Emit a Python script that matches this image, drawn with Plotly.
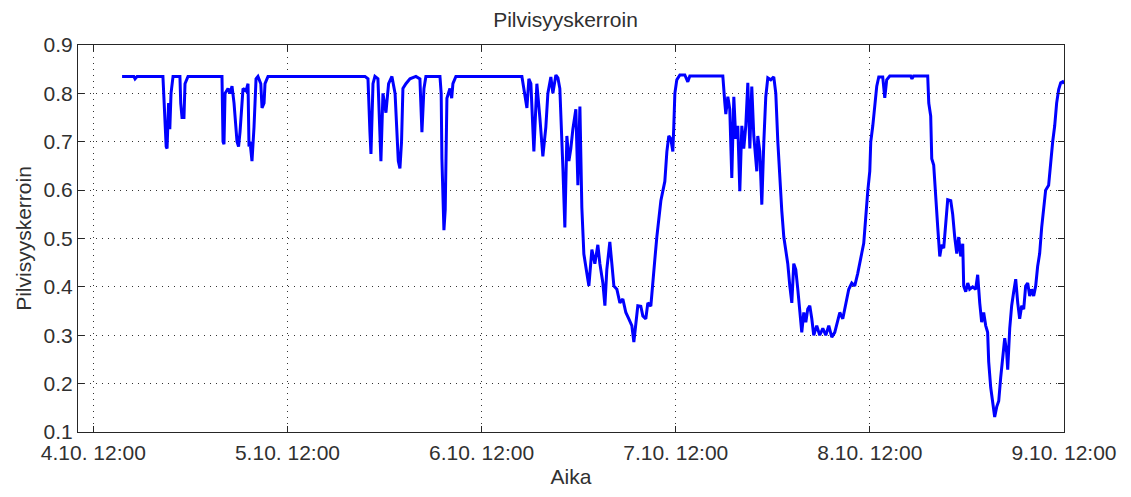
import pandas as pd
import plotly.graph_objects as go

# Time in hours after 4.10. 12:00, and cloudiness coefficient
hours = [3.55, 5.0, 5.15, 5.4, 8.6, 8.75, 9.0, 9.11, 9.3, 9.45, 9.6, 9.85, 10.7, 10.8, 10.96, 11.2, 11.33, 11.7,
         15.9, 16.03, 16.15, 16.28, 16.65, 16.9, 17.14, 17.39, 17.76, 17.95, 18.13, 18.5, 18.87, 19.12, 19.24, 19.37,
         19.61, 19.86, 20.11, 20.35, 20.7, 20.85, 21.1, 21.22, 21.59,
         33.58, 33.95, 34.19, 34.32, 34.57, 34.81, 35.18, 35.4, 35.55, 35.8, 36.17, 36.5, 36.91, 37.3, 37.53, 37.7,
         37.9, 38.1, 38.27, 38.64, 39.14, 39.88, 40.37, 40.62, 40.87, 41.11, 42.85, 43.0, 43.09, 43.34, 43.5, 43.71,
         44.08, 44.3, 44.45, 44.82,
         52.98, 53.23, 53.6, 53.84, 54.09, 54.46, 54.83, 55.2, 55.57, 55.94, 56.19, 56.56, 56.81, 57.18, 57.43, 57.67,
         57.8, 58.05, 58.29, 58.54, 58.79, 59.03, 59.28, 59.65, 59.9, 60.15, 60.39, 60.64, 61.01, 61.26, 61.63, 62.0,
         62.37, 62.62, 62.99, 63.24, 63.48, 63.85, 64.1, 64.35, 64.72, 65.09, 65.46, 65.83, 66.2, 66.57, 66.82, 67.07,
         67.31, 67.68, 67.93, 68.3, 68.55, 68.92, 69.17, 69.41, 69.66, 69.91, 70.16, 70.4, 70.65, 70.9, 71.14, 71.39,
         71.64, 71.76, 71.89, 72.13, 72.51, 73.12, 73.49, 73.74,
         77.82, 78.07, 78.19, 78.44, 78.68, 78.93, 79.18, 79.42, 79.67, 79.92, 80.17, 80.41, 80.66, 80.91, 81.16, 81.4,
         81.65, 82.02, 82.14, 82.39, 82.64, 82.89, 83.13, 83.38, 83.75, 84.12, 84.37, 84.62, 84.86, 85.11, 85.36, 85.6,
         85.85, 86.1, 86.35, 86.59, 86.84, 87.09, 87.33, 87.58, 87.83, 88.08, 88.32, 88.57, 88.82, 89.06, 89.43, 89.8,
         90.18, 90.55, 90.92, 91.29, 91.66, 92.03, 92.28, 92.65, 93.02, 93.39, 93.76, 94.13, 94.5, 94.75, 95.0, 95.24,
         95.49, 95.74, 95.99, 96.11, 96.36, 96.6, 96.85, 97.1, 97.59, 97.84, 98.08, 98.46, 101.05, 101.2, 101.4,
         103.15, 103.28, 103.52, 103.65, 103.89, 104.14, 104.39, 104.64, 104.88, 105.13, 105.38, 105.62, 106.0, 106.24,
         106.49, 106.74, 106.98, 107.23, 107.48, 107.6, 107.85, 108.1, 108.34, 108.71, 109.08, 109.33, 109.58, 109.82,
         110.07, 110.32, 110.56, 110.69, 110.94, 111.18, 111.43, 111.68, 111.93, 112.17, 112.42, 112.67, 112.91, 113.04,
         113.29, 113.53, 113.78, 114.03, 114.28, 114.52, 114.77, 115.02, 115.26, 115.51, 115.76, 116.0, 116.25, 116.5,
         116.74, 116.99, 117.24, 117.49, 117.73, 118.1, 118.35, 118.6, 118.85, 119.09, 119.34, 119.59, 119.84, 120.0]

values = [0.835, 0.835, 0.830, 0.835, 0.835, 0.78, 0.69, 0.686, 0.78, 0.726, 0.80, 0.835, 0.835, 0.78, 0.75, 0.75, 0.82, 0.835,
          0.835, 0.70, 0.695, 0.80, 0.81, 0.80, 0.815, 0.78, 0.70, 0.69, 0.72, 0.81, 0.805, 0.82, 0.69, 0.70,
          0.66, 0.73, 0.83, 0.835, 0.82, 0.77, 0.78, 0.82, 0.835,
          0.835, 0.83, 0.72, 0.675, 0.82, 0.835, 0.83, 0.73, 0.66, 0.80, 0.76, 0.82, 0.835, 0.80, 0.72, 0.66,
          0.645, 0.70, 0.81, 0.82, 0.83, 0.835, 0.83, 0.72, 0.81, 0.835, 0.835, 0.80, 0.665, 0.517, 0.56, 0.79,
          0.81, 0.79, 0.82, 0.835,
          0.835, 0.81, 0.77, 0.83, 0.82, 0.68, 0.82, 0.75, 0.67, 0.73, 0.80, 0.834, 0.80, 0.838, 0.832, 0.81,
          0.76, 0.645, 0.523, 0.712, 0.66, 0.686, 0.726, 0.767, 0.61, 0.773, 0.564, 0.468, 0.428, 0.402, 0.477, 0.448,
          0.487, 0.448, 0.408, 0.361, 0.436, 0.493, 0.448, 0.402, 0.395, 0.367, 0.375, 0.347, 0.334, 0.32, 0.286, 0.327,
          0.361, 0.36, 0.34, 0.334, 0.367, 0.36, 0.402, 0.456, 0.503, 0.544, 0.578, 0.598, 0.618, 0.679, 0.712, 0.706,
          0.68, 0.733, 0.80, 0.828, 0.838, 0.838, 0.824, 0.836,
          0.836, 0.78, 0.757, 0.793, 0.767, 0.625, 0.793, 0.706, 0.733, 0.598, 0.733, 0.686, 0.733, 0.822, 0.686, 0.814,
          0.712, 0.639, 0.712, 0.68, 0.57, 0.70, 0.793, 0.832, 0.828, 0.834, 0.80, 0.70, 0.618, 0.557, 0.503, 0.476,
          0.448, 0.402, 0.367, 0.448, 0.436, 0.395, 0.347, 0.306, 0.347, 0.327, 0.354, 0.361, 0.334, 0.30, 0.32, 0.30,
          0.314, 0.30, 0.32, 0.296, 0.306, 0.334, 0.347, 0.334, 0.367, 0.395, 0.408, 0.402, 0.428, 0.452, 0.47, 0.49,
          0.55, 0.598, 0.639, 0.70, 0.733, 0.767, 0.815, 0.834, 0.834, 0.791, 0.828, 0.836, 0.836, 0.83, 0.836,
          0.836, 0.78, 0.753, 0.665, 0.652, 0.578, 0.523, 0.463, 0.487, 0.48, 0.523, 0.58, 0.578, 0.55,
          0.503, 0.469, 0.503, 0.463, 0.489, 0.402, 0.39, 0.408, 0.395, 0.40, 0.395, 0.425, 0.367, 0.327,
          0.347, 0.32, 0.306, 0.245, 0.192, 0.164, 0.131, 0.152, 0.164, 0.212, 0.252, 0.294, 0.265, 0.229,
          0.314, 0.361, 0.39, 0.416, 0.367, 0.334, 0.361, 0.354, 0.402, 0.408, 0.381, 0.395, 0.381, 0.402,
          0.442, 0.469, 0.523, 0.564, 0.60, 0.61, 0.659, 0.70, 0.733, 0.78, 0.808, 0.822, 0.824, 0.82]

tick_times = ["2012-10-04 12:00", "2012-10-05 12:00", "2012-10-06 12:00",
              "2012-10-07 12:00", "2012-10-08 12:00", "2012-10-09 12:00"]
tick_labels = ["4.10. 12:00", "5.10. 12:00", "6.10. 12:00", "7.10. 12:00", "8.10. 12:00", "9.10. 12:00"]
y_ticks = [0.1, 0.2, 0.3, 0.4, 0.5, 0.6, 0.7, 0.8, 0.9]

base = pd.Timestamp("2012-10-04 12:00")
times = base + pd.to_timedelta(hours, unit="h")

fig = go.Figure()
fig.add_trace(go.Scatter(x=times, y=values, mode="lines",
                         line=dict(color="#0000FF", width=3), showlegend=False))

font = dict(family="Liberation Sans, Arial, sans-serif", size=21, color="#303030")
axis_common = dict(showline=True, linecolor="#262626", linewidth=1, mirror="allticks",
                   ticks="inside", ticklen=6, tickcolor="#262626",
                   showgrid=True, gridcolor="#333333", gridwidth=1, griddash="1px,5px",
                   zeroline=False, tickfont=font)

fig.update_layout(
    width=1131, height=497,
    margin=dict(l=78, r=67, t=45, b=59),
    paper_bgcolor="white", plot_bgcolor="white",
    font=font,
    title=dict(text="Pilvisyyskerroin", x=0.5, xanchor="center", y=0.96, yanchor="middle",
               font=font),
    xaxis=dict(type="date",
               range=[base - pd.Timedelta(hours=1.9), pd.Timestamp("2012-10-09 12:00")],
               tickmode="array", tickvals=tick_times, ticktext=tick_labels,
               ticklabelstandoff=2,
               title=dict(text="Aika", standoff=6, font=font), **axis_common),
    yaxis=dict(range=[0.1, 0.9], tickmode="array", tickvals=y_ticks,
               ticktext=[f"{v:.1f}" for v in y_ticks],
               title=dict(text="Pilvisyyskerroin", standoff=6, font=font), **axis_common),
)

fig.write_html("out.html")
